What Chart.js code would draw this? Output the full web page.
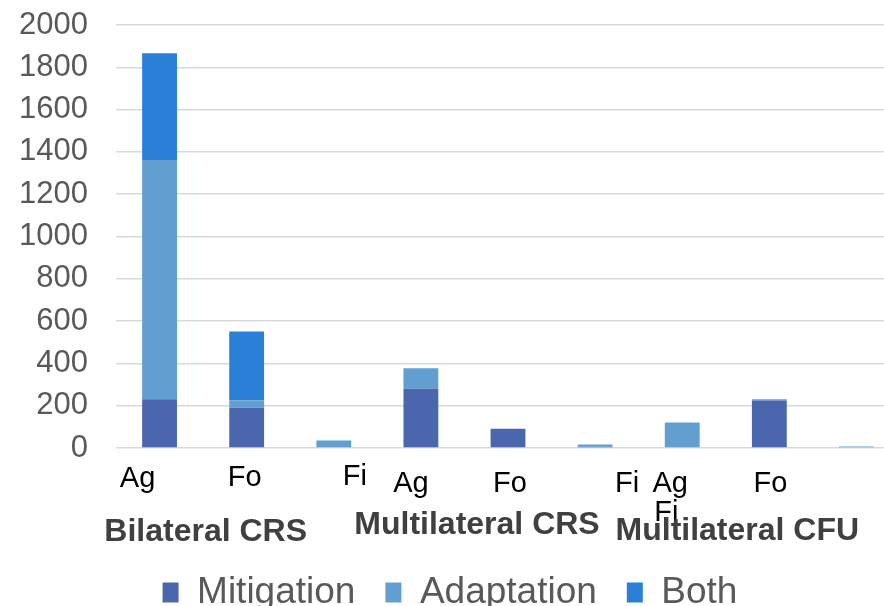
<!DOCTYPE html>
<html>
<head>
<meta charset="utf-8">
<script src="https://cdn.jsdelivr.net/npm/chart.js@4/dist/chart.umd.min.js"></script>
<style>
    html, body { margin: 0; padding: 0; background: #fff; overflow: hidden; }
    #wrap { position: absolute; left: 0; top: 0; width: 900px; height: 621px; }
</style>
</head>
<body>
<div id="wrap"><canvas id="chart"></canvas></div>
<script>
// Podaci
const categories = ['Ag', 'Fo', 'Fi', 'Ag', 'Fo', 'Fi', 'Ag', 'Fo', 'Fi'];
const groups = ['Bilateral CRS', 'Multilateral CRS', 'Multilateral CFU'];
const mitigation = [230, 190, 4, 280, 91, 6, 0, 224, 0];
const adaptation = [1132, 36, 32, 97, 0, 10, 121, 6, 7];
const both = [505, 325, 0, 0, 0, 0, 0, 0, 0];
const yTicks = [0, 200, 400, 600, 800, 1000, 1200, 1400, 1600, 1800, 2000];

// Raspored oznaka ispod osi (pomak od sredine stupca / grupe)
const catOffsetX = [-22, -2, 21, -10, 2, 32, -12, 1, -190];
const catOffsetY = [31, 30, 29, 36, 36, 36, 36, 36, 65];
const groupOffsetX = [-41, -31, -32];
const groupOffsetY = [84, 77, 83];

const axisLabels = {
    id: 'axisLabels',
    afterDraw(chart) {
        const ctx = chart.ctx;
        const xs = chart.scales.x;
        const base = chart.scales.y.getPixelForValue(0);
        ctx.save();
        ctx.textAlign = 'center';
        ctx.textBaseline = 'middle';
        ctx.fillStyle = '#000000';
        ctx.font = '29px "Liberation Sans", Arial, sans-serif';
        categories.forEach((c, i) => {
            ctx.fillText(c, xs.getPixelForValue(i) + catOffsetX[i], base + catOffsetY[i]);
        });
        ctx.fillStyle = '#404040';
        ctx.font = 'bold 32px "Liberation Sans", Arial, sans-serif';
        groups.forEach((g, i) => {
            ctx.fillText(g, xs.getPixelForValue(i * 3 + 1) + groupOffsetX[i], base + groupOffsetY[i]);
        });
        ctx.restore();
    }
};

new Chart(document.getElementById('chart'), {
    type: 'bar',
    data: {
        labels: categories,
        datasets: [
            { label: 'Mitigation', data: mitigation, backgroundColor: '#4a66ac' },
            { label: 'Adaptation', data: adaptation, backgroundColor: '#629fd1' },
            { label: 'Both', data: both, backgroundColor: '#2a7fd7' }
        ]
    },
    options: {
        responsive: true,
        maintainAspectRatio: false,
        animation: false,
        layout: { padding: { top: 25, right: 0, left: 0, bottom: 0 } },
        datasets: { bar: { categoryPercentage: 1, barPercentage: 0.4 } },
        scales: {
            x: {
                stacked: true,
                grid: { display: false },
                border: { display: false },
                ticks: { display: false },
                afterFit: s => { s.height = 96; }
            },
            y: {
                stacked: true,
                min: 0,
                max: 2000,
                afterBuildTicks: s => { s.ticks = yTicks.map(v => ({ value: v })); },
                grid: { color: '#d9d9d9', lineWidth: 1.5, drawTicks: true, tickLength: 24, tickColor: 'rgba(0,0,0,0)' },
                border: { display: false },
                ticks: {
                    color: '#595959',
                    padding: 4,
                    callback: v => String(v),
                    font: { size: 31, family: '"Liberation Sans", Arial, sans-serif' }
                },
                afterFit: s => { s.width = 116; }
            }
        },
        plugins: {
            legend: {
                position: 'bottom',
                labels: {
                    boxWidth: 16,
                    boxHeight: 20,
                    padding: 30,
                    color: '#595959',
                    font: { size: 37, family: '"Liberation Sans", Arial, sans-serif' }
                }
            },
            tooltip: { enabled: false }
        }
    },
    plugins: [axisLabels]
});
</script>
</body>
</html>
